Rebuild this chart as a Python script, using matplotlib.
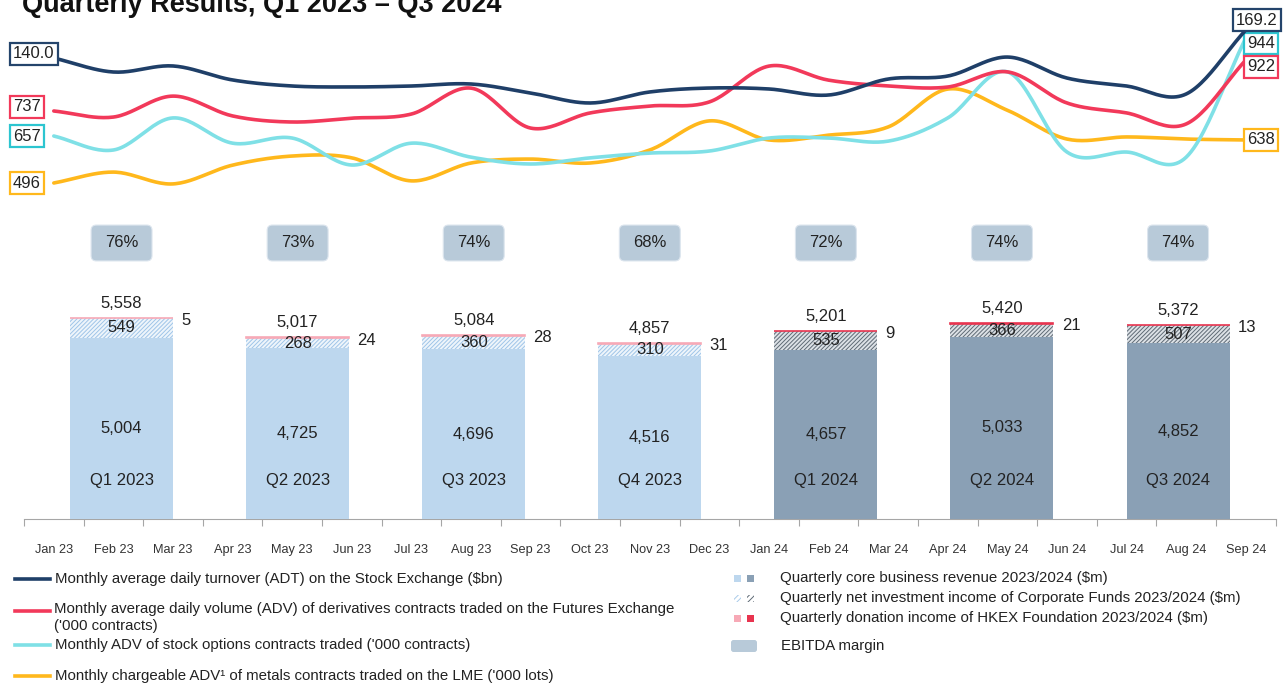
import numpy as np
import matplotlib.pyplot as plt
import matplotlib.transforms as mtransforms
from matplotlib.patches import Rectangle, FancyBboxPatch
from matplotlib.lines import Line2D

plt.rcParams["font.family"] = ["Liberation Sans", "DejaVu Sans"]
plt.rcParams["hatch.linewidth"] = 0.7

W, H = 1284, 684

# monthly series
months = ["Jan 23", "Feb 23", "Mar 23", "Apr 23", "May 23", "Jun 23", "Jul 23",
          "Aug 23", "Sep 23", "Oct 23", "Nov 23", "Dec 23", "Jan 24", "Feb 24",
          "Mar 24", "Apr 24", "May 24", "Jun 24", "Jul 24", "Aug 24", "Sep 24"]
adt = [140.0, 125.4, 131.7, 117.1, 110.8, 109.8, 110.8, 112.9, 103.5, 93.1, 104.6,
       108.7, 107.7, 101.4, 118.1, 121.2, 141.0, 119.1, 110.8, 102.5, 169.2]
dadv = [737, 715, 791, 719, 697, 711, 726, 820, 675, 730, 755, 770, 900, 849,
        828, 824, 879, 766, 730, 690, 922]
options_adv = [657, 616, 710, 636, 651, 572, 636, 595, 575, 593, 607, 613, 651, 651,
               642, 710, 845, 610, 610, 595, 944]
lme_adv = [496, 532, 493, 555, 585, 579, 503, 562, 575, 562, 605, 701, 638, 654,
           681, 806, 736, 641, 648, 641, 638]

# quarterly bars
quarters = ["Q1 2023", "Q2 2023", "Q3 2023", "Q4 2023", "Q1 2024", "Q2 2024", "Q3 2024"]
core = [5004, 4725, 4696, 4516, 4657, 5033, 4852]
invest = [549, 268, 360, 310, 535, 366, 507]
donation = [5, 24, 28, 31, 9, 21, 13]
ebitda = [76, 73, 74, 68, 72, 74, 74]

NAVY, RED, CYAN, ORANGE = "#1F3F68", "#F2395A", "#7FE0E6", "#FFB81C"
TXT = "#222222"


def fx(x):
    return x / W


def fy(y):
    return 1 - y / H


def smooth(ys, n=24):
    y = np.asarray(ys, float)
    x = np.arange(len(y), dtype=float)
    px = np.concatenate([[2 * x[0] - x[1]], x, [2 * x[-1] - x[-2]]])
    py = np.concatenate([[2 * y[0] - y[1]], y, [2 * y[-1] - y[-2]]])
    t = np.linspace(0, 1, n, endpoint=False)
    xs, out = [], []
    for i in range(1, len(px) - 2):
        for arr, res in ((px, xs), (py, out)):
            p0, p1, p2, p3 = arr[i - 1], arr[i], arr[i + 1], arr[i + 2]
            res.append(0.5 * (2 * p1 + (-p0 + p2) * t + (2 * p0 - 5 * p1 + 4 * p2 - p3) * t ** 2
                              + (-p0 + 3 * p1 - 3 * p2 + p3) * t ** 3))
    xs.append([x[-1]])
    out.append([y[-1]])
    return np.concatenate(xs), np.concatenate(out)


fig = plt.figure(figsize=(W / 100, H / 100), dpi=100)

axw = 1251.6 / W

# ---- bars + month axis ----
ax = fig.add_axes([fx(24), fy(519), axw, (519 - 290) / H])
ax.set_xlim(-0.5, len(months) - 0.5)
ax.set_ylim(0, 229 / 0.0362)
for s in ("top", "right", "left"):
    ax.spines[s].set_visible(False)
ax.spines["bottom"].set_color("#A6A6A6")
ax.set_yticks([])
ax.set_xticks(np.arange(-0.5, len(months), 1))
ax.set_xticklabels([])
ax.tick_params(axis="x", which="major", length=5, color="#A6A6A6", direction="out")
ax.set_xticks(np.arange(len(months)), minor=True)
ax.set_xticklabels(months, minor=True, fontsize=9.2, color="#333333")
ax.tick_params(axis="x", which="minor", length=0, pad=18)

axq = ax.twiny()
axq.set_xlim(-0.554, len(quarters) - 1 + 0.554)
axq.axis("off")

xq = np.arange(len(quarters))
is24 = ["2024" in q for q in quarters]
core_c = ["#8AA0B5" if b else "#BDD7EE" for b in is24]
inv_face = ["#DCE1E6" if b else "#EEF5FB" for b in is24]
inv_hatch = ["#5E6A75" if b else "#9FC5E8" for b in is24]
don_c = ["#E8344F" if b else "#F7A9B6" for b in is24]
core_a = np.array(core)
inv_a = np.array(invest)
don_a = np.array(donation)
total = core_a + inv_a + don_a
bw = 0.585

axq.bar(xq, core_a, bw, color=core_c, linewidth=0)
axq.bar(xq, inv_a, bw, bottom=core_a, color=inv_face, edgecolor=inv_hatch,
        hatch="////////", linewidth=0)
axq.bar(xq, don_a, bw, bottom=core_a + inv_a, color=don_c, edgecolor=don_c, linewidth=1.2)

FS = 12
for i in range(len(quarters)):
    axq.annotate(f"{total[i]:,}", xy=(xq[i], total[i]), xytext=(0, 5),
                 textcoords="offset points", ha="center", va="bottom", fontsize=FS, color=TXT)
    axq.text(xq[i], core_a[i] + inv_a[i] / 2, f"{inv_a[i]:,}", ha="center", va="center",
             fontsize=FS, color=TXT)
    axq.annotate(f"{don_a[i]}", xy=(xq[i] + bw / 2, total[i]), xytext=(6, -2),
                 textcoords="offset points", ha="left", va="center", fontsize=FS, color=TXT)
    axq.text(xq[i], core_a[i] / 2, f"{core_a[i]:,}", ha="center", va="center",
             fontsize=FS, color=TXT)
    axq.annotate(quarters[i], xy=(xq[i], 0), xytext=(0, 28), textcoords="offset points",
                 ha="center", va="center", fontsize=FS, color=TXT)

# ---- EBITDA margin boxes ----
axe = fig.add_axes([fx(24), fy(266), axw, 46 / H])
axe.set_xlim(axq.get_xlim())
axe.set_ylim(0, 1)
axe.axis("off")
bx = 0.346
for i, m in enumerate(ebitda):
    axe.add_patch(FancyBboxPatch((xq[i] - bx / 2, 0.11), bx, 0.78,
                                 boxstyle="round,pad=0,rounding_size=0.03",
                                 mutation_aspect=176.1 / 46, facecolor="#B8CAD9",
                                 edgecolor="#DCE5EE", linewidth=0.8))
    axe.text(xq[i], 0.5, f"{m}%", ha="center", va="center", fontsize=12, color=TXT)

# ---- smoothed monthly lines, each on its own scale ----
series = [
    (lme_adv, ORANGE, ORANGE, (406.9, 1099.9), "{:.0f}", (0, 0)),
    (options_adv, CYAN, "#2CC5D0", (440.2, 1055.5), "{:.0f}", (0, -4)),
    (dadv, RED, RED, (377.6, 1139.9), "{:.0f}", (3, -5)),
    (adt, NAVY, "#24446B", (-18.5, 200.5), "{:.1f}", (3, 7)),
]
axl0 = fig.add_axes([fx(24), fy(210), axw, 210 / H])
axes_l = [axl0] + [axl0.twinx() for _ in range(len(series) - 1)]
for (vals, col, ecol, lim, fmt, offs), a in zip(series, axes_l):
    a.set_xlim(-0.5, len(months) - 0.5)
    a.set_ylim(*lim)
    a.axis("off")
    sx, sy = smooth(vals)
    a.plot(sx, sy, color=col, linewidth=2.6, solid_capstyle="round")
    bb = dict(boxstyle="square,pad=0.2", facecolor="white", edgecolor=ecol, linewidth=1.6)
    tl = mtransforms.blended_transform_factory(fig.transFigure, a.transData)
    tl = tl + mtransforms.ScaledTranslation(0, offs[0] / 72, fig.dpi_scale_trans)
    a.text(fx(13), vals[0], fmt.format(vals[0]), transform=tl, ha="left", va="center",
           fontsize=12, color=TXT, bbox=bb, clip_on=False)
    right_x = 1236 if vals is adt else 1247
    tr = mtransforms.blended_transform_factory(fig.transFigure, a.transData)
    tr = tr + mtransforms.ScaledTranslation(0, offs[1] / 72, fig.dpi_scale_trans)
    a.text(fx(right_x), vals[-1], fmt.format(vals[-1]), transform=tr, ha="left",
           va="center", fontsize=12, color=TXT, bbox=bb, clip_on=False)

# ---- title ----
fig.text(fx(22), fy(12), "Quarterly Results, Q1 2023 \u2013 Q3 2024", fontsize=19.5,
         fontweight="bold", va="baseline", ha="left", color="#111111")

# ---- legend (left) ----
leg_lines = [
    (NAVY, 579, "Monthly average daily turnover (ADT) on the Stock Exchange ($bn)"),
    (RED, 611, "Monthly average daily volume (ADV) of derivatives contracts traded on the Futures Exchange\n('000 contracts)"),
    (CYAN, 645, "Monthly ADV of stock options contracts traded ('000 contracts)"),
    (ORANGE, 676, "Monthly chargeable ADV\u00b9 of metals contracts traded on the LME ('000 lots)"),
]
LFS = 10.8
for col, y, lab in leg_lines:
    fig.add_artist(Line2D([fx(15), fx(50)], [fy(y), fy(y)], color=col, linewidth=2.6,
                          transform=fig.transFigure))
    if "\n" in lab:
        fig.text(fx(54), fy(y - 9), lab, fontsize=LFS, va="top", ha="left", color=TXT,
                 linespacing=1.3)
    else:
        fig.text(fx(55), fy(y), lab, fontsize=LFS, va="center", ha="left", color=TXT)

# ---- legend (right) ----
leg_bars = [
    (578, "Quarterly core business revenue 2023/2024 ($m)", ("#BDD7EE", "#8AA0B5"), None),
    (598, "Quarterly net investment income of Corporate Funds 2023/2024 ($m)",
     ("#A9CBEA", "#5E6A75"), "//////"),
    (618, "Quarterly donation income of HKEX Foundation 2023/2024 ($m)", ("#F7A9B6", "#E8344F"), None),
]
RFS = 10.8
sq = 7
for y, lab, cols, hatch in leg_bars:
    for xc, c in zip((737, 750), cols):
        if hatch:
            r = Rectangle((fx(xc - sq / 2), fy(y + sq / 2)), sq / W, sq / H, facecolor="white",
                          edgecolor=c, hatch=hatch, linewidth=0, transform=fig.transFigure)
        else:
            r = Rectangle((fx(xc - sq / 2), fy(y + sq / 2)), sq / W, sq / H, facecolor=c,
                          linewidth=0, transform=fig.transFigure)
        fig.add_artist(r)
    fig.text(fx(780), fy(y), lab, fontsize=RFS, va="center", ha="left", color=TXT)

fig.add_artist(FancyBboxPatch((fx(731), fy(652)), 26 / W, 12 / H,
                              boxstyle="round,pad=0,rounding_size=0.002",
                              mutation_aspect=W / H, facecolor="#B8CAD9", linewidth=0,
                              transform=fig.transFigure))
fig.text(fx(781), fy(646), "EBITDA margin", fontsize=RFS, va="center", ha="left", color=TXT)

fig.savefig("out.png", dpi=100)
